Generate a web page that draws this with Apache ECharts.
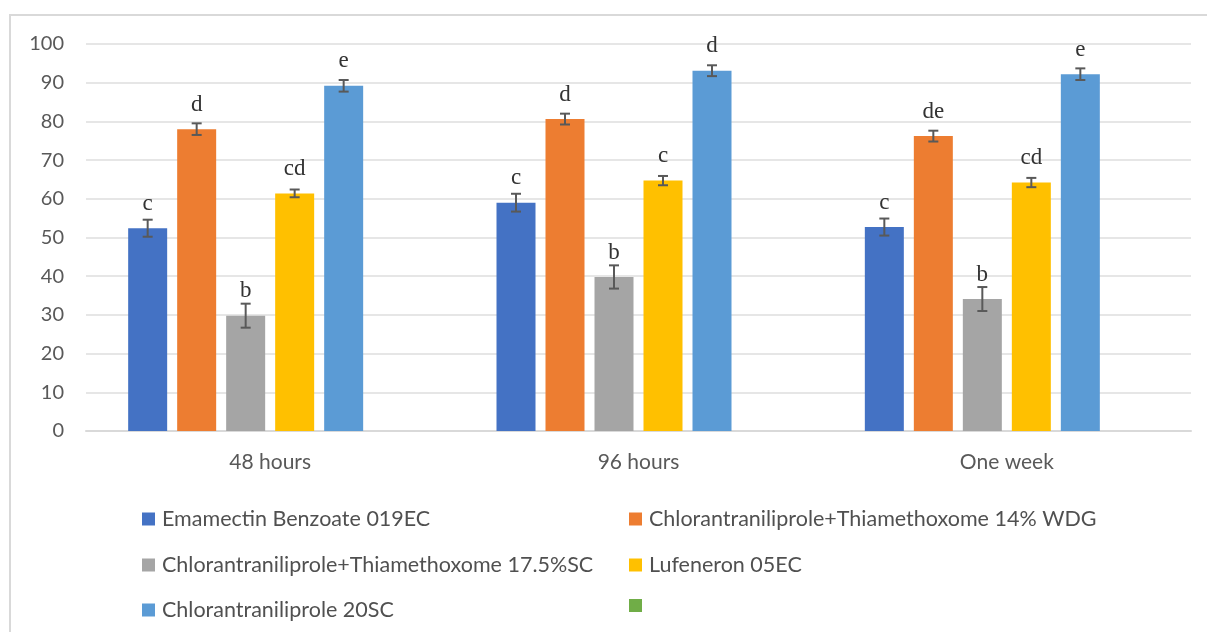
<!DOCTYPE html>
<html>
<head>
<meta charset="utf-8">
<script src="https://cdn.jsdelivr.net/npm/echarts@6/dist/echarts.min.js"></script>
<style>
  html, body { margin: 0; padding: 0; background: #ffffff; }
  #chart { width: 1207px; height: 632px; }
</style>
</head>
<body>
<div id="chart"></div>
<script>
// Exposure periods on the x axis
const periods = ['48 hours', '96 hours', 'One week'];

// Treatments (the sixth entry is an unnamed, empty series)
const treatments = [
  'Emamectin Benzoate 019EC',
  'Chlorantraniliprole+Thiamethoxome 14% WDG',
  'Chlorantraniliprole+Thiamethoxome 17.5%SC',
  'Lufeneron 05EC',
  'Chlorantraniliprole 20SC',
  ''
];

// Mean mortality (%) per treatment, one value per period
const emamectin      = [52.4, 59.0, 52.7];
const chlorThia14    = [78.0, 80.6, 76.2];
const chlorThia175   = [29.8, 39.8, 34.1];
const lufeneron      = [61.4, 64.7, 64.2];
const chlor20        = [89.2, 93.1, 92.2];
const emptySeries    = [null, null, null];

// Standard errors
const emamectinErr    = [2.2, 2.3, 2.2];
const chlorThia14Err  = [1.5, 1.4, 1.4];
const chlorThia175Err = [3.1, 3.0, 3.1];
const lufeneronErr    = [1.0, 1.2, 1.2];
const chlor20Err      = [1.5, 1.4, 1.5];
const emptyErr        = [null, null, null];

// Significance letters
const emamectinSig    = ['c', 'c', 'c'];
const chlorThia14Sig  = ['d', 'd', 'de'];
const chlorThia175Sig = ['b', 'b', 'b'];
const lufeneronSig    = ['cd', 'c', 'cd'];
const chlor20Sig      = ['e', 'd', 'e'];
const emptySig        = ['', '', ''];

// Y axis ticks
const yMin = 0, yMax = 100, yStep = 10;

const colors = ['#4472C4', '#ED7D31', '#A5A5A5', '#FFC000', '#5B9BD5', '#70AD47'];
const values = [emamectin, chlorThia14, chlorThia175, lufeneron, chlor20, emptySeries];
const errors = [emamectinErr, chlorThia14Err, chlorThia175Err, lufeneronErr, chlor20Err, emptyErr];
const letters = [emamectinSig, chlorThia14Sig, chlorThia175Sig, lufeneronSig, chlor20Sig, emptySig];

const BAR_W = 39;
const BAR_GAP_PX = 10;
const N = treatments.length;
const seriesKey = (i) => treatments[i] || 'series' + (i + 1);

const chart = echarts.init(document.getElementById('chart'), null, { renderer: 'canvas' });

const barSeries = values.map((vals, i) => ({
  name: seriesKey(i),
  type: 'bar',
  data: vals,
  barWidth: BAR_W,
  barGap: (BAR_GAP_PX / BAR_W * 100) + '%',
  itemStyle: { color: colors[i] },
  emphasis: { disabled: true },
  label: {
    show: true,
    position: 'top',
    distance: 13,
    formatter: (p) => letters[i][p.dataIndex],
    fontFamily: '"Liberation Serif", "DejaVu Serif", serif',
    fontSize: 23,
    color: '#333333'
  },
  z: 2
}));

// Error bars drawn on top of each bar
const errData = [];
values.forEach((vals, s) => {
  vals.forEach((v, c) => {
    if (v != null && errors[s][c] != null) errData.push([c, v, errors[s][c], s]);
  });
});

const errSeries = {
  type: 'custom',
  name: 'errorbars',
  data: errData,
  z: 5,
  silent: true,
  renderItem: function (params, api) {
    const c = api.value(0), v = api.value(1), e = api.value(2), s = api.value(3);
    const total = N * BAR_W + (N - 1) * BAR_GAP_PX;
    const center = api.coord([c, v]);
    const x = center[0] - total / 2 + s * (BAR_W + BAR_GAP_PX) + BAR_W / 2;
    const yHi = api.coord([c, v + e])[1];
    const yLo = api.coord([c, v - e])[1];
    const cap = 5;
    const style = { stroke: '#595959', lineWidth: 2 };
    return {
      type: 'group',
      children: [
        { type: 'line', shape: { x1: x, y1: yHi, x2: x, y2: yLo }, style },
        { type: 'line', shape: { x1: x - cap, y1: yHi, x2: x + cap, y2: yHi }, style },
        { type: 'line', shape: { x1: x - cap, y1: yLo, x2: x + cap, y2: yLo }, style }
      ]
    };
  }
};

const legendFont = {
  fontFamily: 'Lato, "Liberation Sans", sans-serif',
  fontSize: 21.5,
  color: '#505050'
};
const legendPos = [
  [137, 503], [624, 503],
  [137, 549], [624, 549],
  [137, 594], [624, 594]
];
const legends = treatments.map((t, i) => ({
  data: [seriesKey(i)],
  left: legendPos[i][0],
  top: legendPos[i][1],
  icon: 'rect',
  itemWidth: 13,
  itemHeight: 13,
  selectedMode: false,
  formatter: () => t,
  textStyle: Object.assign({ padding: [0, 0, 0, 2] }, legendFont)
}));

chart.setOption({
  animation: false,
  backgroundColor: '#ffffff',
  graphic: [{
    type: 'rect',
    shape: { x: 10, y: 15, width: 1300, height: 700 },
    style: { fill: 'none', stroke: '#d9d9d9', lineWidth: 2 },
    silent: true,
    z: -10
  }],
  grid: { left: 86, right: 16, top: 44, bottom: 201, containLabel: false },
  legend: legends,
  xAxis: {
    type: 'category',
    data: periods,
    axisTick: { show: false },
    axisLine: { show: true, lineStyle: { color: '#d9d9d9', width: 2 } },
    axisLabel: {
      margin: 21,
      fontFamily: 'Lato, "Liberation Sans", sans-serif',
      fontSize: 21,
      color: '#595959'
    }
  },
  yAxis: {
    type: 'value',
    min: yMin,
    max: yMax,
    interval: yStep,
    axisLine: { show: false },
    axisTick: { show: false },
    splitLine: { lineStyle: { color: '#e6e6e6', width: 2 } },
    axisLabel: {
      margin: 22,
      fontFamily: 'Lato, "Liberation Sans", sans-serif',
      fontSize: 20,
      color: '#595959'
    }
  },
  series: barSeries.concat([errSeries])
});
</script>
</body>
</html>
